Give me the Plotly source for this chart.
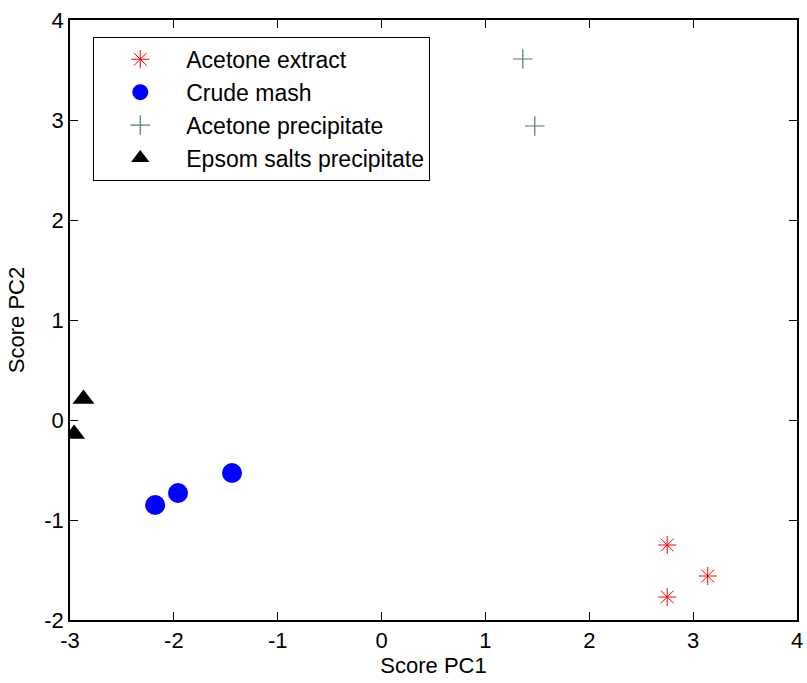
import plotly.graph_objects as go

ext_x = [2.75, 3.14, 2.75]
ext_y = [-1.25, -1.56, -1.77]
mash_x = [-2.18, -1.96, -1.44]
mash_y = [-0.85, -0.73, -0.53]
prec_x = [1.36, 1.475]
prec_y = [3.61, 2.94]
epsom_x = [-2.87, -2.96]
epsom_y = [0.21, -0.14]

xticks = [-3, -2, -1, 0, 1, 2, 3, 4]
yticks = [-2, -1, 0, 1, 2, 3, 4]

fig = go.Figure()
fig.add_trace(go.Scatter(x=ext_x, y=ext_y, mode="markers", name="Acetone extract",
                         marker=dict(symbol="asterisk-open", size=15, color="red",
                                     line=dict(color="red", width=1))))
fig.add_trace(go.Scatter(x=mash_x, y=mash_y, mode="markers", name="Crude mash",
                         marker=dict(symbol="circle", size=20, color="blue", line=dict(width=0))))
fig.add_trace(go.Scatter(x=prec_x, y=prec_y, mode="markers", name="Acetone precipitate",
                         marker=dict(symbol="cross-thin-open", size=14, color="#4d7f66",
                                     line=dict(color="#4d7f66", width=1.2))))
fig.add_trace(go.Scatter(x=epsom_x, y=epsom_y, mode="markers", name="Epsom salts precipitate",
                         marker=dict(symbol="triangle-up", size=19, color="black", line=dict(width=0))))

FONT = "Liberation Sans, Arial"
axis_common = dict(showgrid=False, zeroline=False, showline=True, linecolor="black",
                   linewidth=1.5, mirror="ticks", ticks="inside", ticklen=8,
                   tickcolor="black", tickwidth=1, automargin=False,
                   tickfont=dict(family=FONT, size=22, color="black"),
                   title_font=dict(family=FONT, size=22, color="black"))

fig.update_xaxes(range=[-3, 4], tickvals=xticks, ticktext=[str(v) for v in xticks],
                 title_text="Score PC1", title_standoff=4, **axis_common)
fig.update_yaxes(range=[-2, 4], tickvals=yticks, ticktext=[str(v) for v in yticks],
                 title_text="Score PC2", title_standoff=14, **axis_common)

fig.update_layout(
    width=807, height=683,
    margin=dict(l=70, r=10, t=20, b=63),
    plot_bgcolor="white", paper_bgcolor="white",
    font=dict(family=FONT, size=22, color="black"),
    legend=dict(x=0.032, y=0.972, xanchor="left", yanchor="top",
                bordercolor="black", borderwidth=1, bgcolor="white",
                font=dict(family=FONT, size=23), itemwidth=82, tracegroupgap=0),
    showlegend=True,
)

fig.write_html("out.html", config={"displayModeBar": False},
               post_script="document.body.style.margin='0';document.body.style.overflow='hidden';")
